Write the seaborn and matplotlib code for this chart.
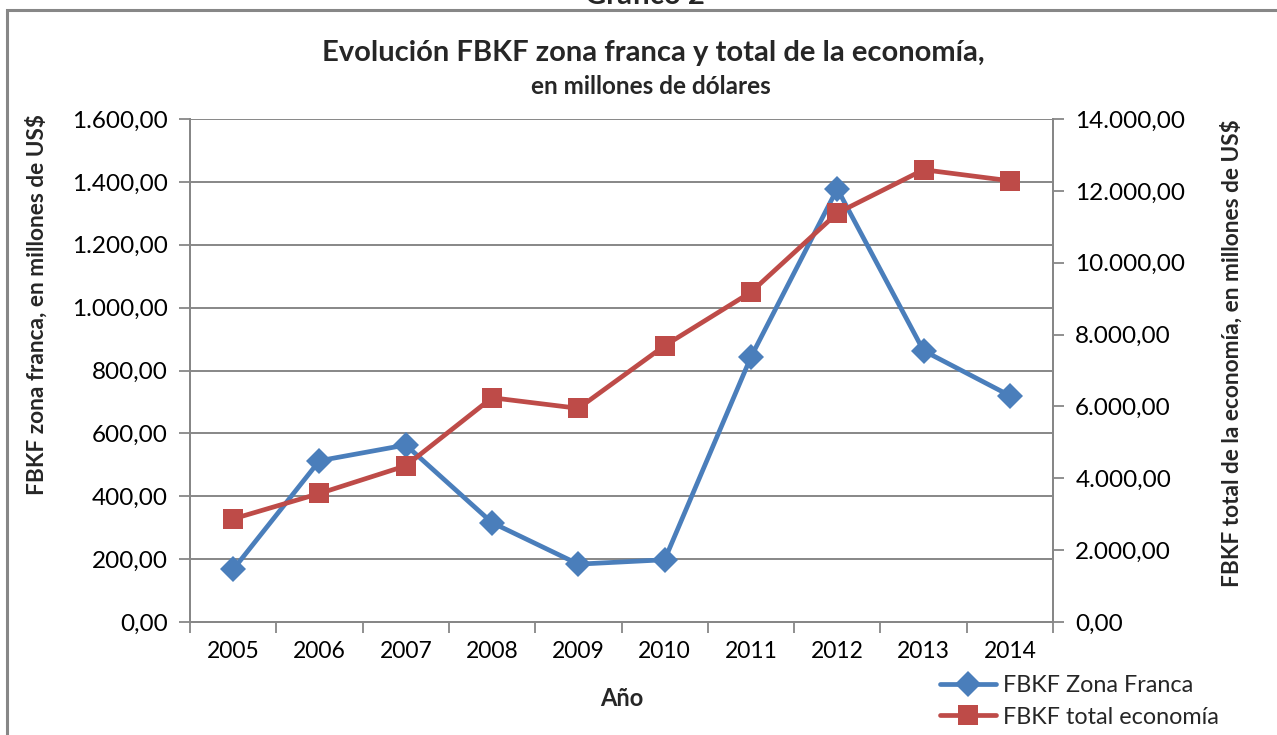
import matplotlib
matplotlib.use('Agg')
import matplotlib.pyplot as plt
from matplotlib.patches import Rectangle
from matplotlib.ticker import FuncFormatter, MultipleLocator
import seaborn as sns
import pandas as pd

# datos
anios = [2005, 2006, 2007, 2008, 2009, 2010, 2011, 2012, 2013, 2014]
zona_franca = [167, 513, 563, 316, 184, 198, 843, 1378, 863, 720]
total_economia = [2870, 3578, 4347, 6242, 5947, 7691, 9180, 11381, 12588, 12281]

df = pd.DataFrame({'Año': anios, 'zona': zona_franca, 'total': total_economia})

sns.set_theme(style='white')
plt.rcParams['font.family'] = ['Lato', 'DejaVu Sans']

azul = '#4A7EBB'
rojo = '#BE4B48'
gris = '#878787'


def fmt_es(v, pos):
    s = f'{v:,.2f}'
    return s.replace(',', 'X').replace('.', ',').replace('X', '.')


fig = plt.figure(figsize=(12.77, 7.35), dpi=100)
ax = fig.add_axes([190 / 1277, 1 - 622 / 735, (1053 - 190) / 1277, (622 - 119) / 735])
ax2 = ax.twinx()

sns.lineplot(data=df, x='Año', y='zona', ax=ax, color=azul, linewidth=3.4,
             marker='D', markersize=13, markeredgewidth=0, label='FBKF Zona Franca', legend=False)
sns.lineplot(data=df, x='Año', y='total', ax=ax2, color=rojo, linewidth=3.4,
             marker='s', markersize=14, markeredgewidth=0, label='FBKF total economía', legend=False)

ax.set_xlim(anios[0] - 0.5, anios[-1] + 0.5)
ax.set_ylim(0, 1600)
ax2.set_ylim(0, 14000)
ax.yaxis.set_major_locator(MultipleLocator(200))
ax2.yaxis.set_major_locator(MultipleLocator(2000))
ax.yaxis.set_major_formatter(FuncFormatter(fmt_es))
ax2.yaxis.set_major_formatter(FuncFormatter(fmt_es))

ax.set_xticks(anios)
ax.set_xticklabels([str(a) for a in anios])
ax.set_xticks([a - 0.5 for a in anios] + [anios[-1] + 0.5], minor=True)
ax.tick_params(axis='x', which='major', length=0, pad=14, labelsize=16.5, labelcolor='black')
ax.tick_params(axis='x', which='minor', length=8, width=1.3, color=gris, direction='out', bottom=True)
ax.tick_params(axis='y', which='major', length=8, width=1.3, color=gris, direction='out', left=True,
               labelsize=17.5, labelcolor='black', pad=8)
ax2.tick_params(axis='y', which='major', length=8, width=1.3, color=gris, direction='out', right=True,
                labelsize=17.5, labelcolor='black', pad=8)

ax.grid(axis='y', color=gris, linewidth=1.4)
ax.set_axisbelow(True)
for a in (ax, ax2):
    a.spines['top'].set_visible(False)
    for s in ('left', 'right', 'bottom'):
        a.spines[s].set_color(gris)
        a.spines[s].set_linewidth(1.4)

ax.set_xlabel('Año', fontsize=17, fontweight='bold', labelpad=18)
ax.set_ylabel('FBKF zona franca, en millones de US$', fontsize=16.3, fontweight='bold')
ax2.set_ylabel('FBKF total de la economía, en millones de US$', fontsize=16.3, fontweight='bold')
ax.yaxis.set_label_coords(-0.1645, 0.632)
ax2.yaxis.set_label_coords(1.1935, 0.535)

h1, l1 = ax.get_legend_handles_labels()
h2, l2 = ax2.get_legend_handles_labels()
fig.legend(h1 + h2, l1 + l2, loc='upper left', bbox_to_anchor=(940 / 1277, 1 - 675 / 735),
           frameon=False, fontsize=16.8, handlelength=2.4, handletextpad=0.3, labelspacing=0.45,
           borderaxespad=0, borderpad=0)

fig.text(653 / 1277, 1 - 53 / 735, 'Evolución FBKF zona franca y total de la economía,',
         ha='center', va='center', fontsize=21, fontweight='bold')
fig.text(651 / 1277, 1 - 87 / 735, 'en millones de dólares',
         ha='center', va='center', fontsize=17.5, fontweight='bold')
fig.text(645 / 1277, 1 - 4 / 735, 'Gráfico 2', ha='center', va='baseline',
         fontsize=21, fontweight='bold')

fig.patches.append(Rectangle((7 / 1277, -0.1), 1.2, 1.1 - 10 / 735, transform=fig.transFigure,
                             fill=False, edgecolor=gris, linewidth=2.2))

fig.savefig('out.png', dpi=100)
